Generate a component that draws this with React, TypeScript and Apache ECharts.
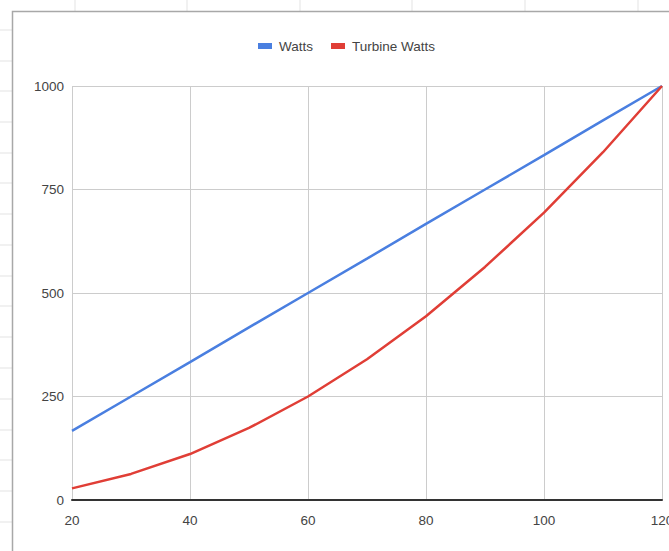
import React, { useEffect, useRef } from "react";
import * as echarts from "echarts";

const xValues = [20, 30, 40, 50, 60, 70, 80, 90, 100, 110, 120];
const wattsValues = [167, 250, 333, 417, 500, 583, 667, 750, 833, 917, 1000];
const turbineValues = [28, 63, 111, 174, 250, 340, 444, 563, 694, 840, 1000];
const seriesNames = ["Watts", "Turbine Watts"];

const FONT = "'Liberation Sans', Arial, sans-serif";
const FS = 13.5;

export default function App() {
  const ref = useRef<HTMLDivElement>(null);
  useEffect(() => {
    if (!ref.current) return;
    const chart = echarts.init(ref.current, null, { renderer: "svg" });
    const cellLineColor = "#e3e3e3";
    const graphics: any[] = [];
    [75, 187, 300, 412, 525, 638].forEach((x) => {
      graphics.push({ type: "line", shape: { x1: x, y1: 0, x2: x, y2: 11 }, style: { stroke: cellLineColor, lineWidth: 1 }, z: -10 });
    });
    [30, 61, 91, 122, 153, 183, 214, 245, 276, 306, 337, 368, 399, 430, 460, 491, 522].forEach((y) => {
      graphics.push({ type: "line", shape: { x1: 0, y1: y, x2: 12, y2: y }, style: { stroke: cellLineColor, lineWidth: 1 }, z: -10 });
    });
    graphics.push({
      type: "polyline",
      shape: { points: [[12.5, 560], [12.5, 11.5], [680, 11.5]] },
      style: { stroke: "#a8a8a8", lineWidth: 1.5, fill: null },
      z: -5,
    });
    chart.setOption({
      animation: false,
      backgroundColor: "#ffffff",
      graphic: graphics,
      legend: {
        data: seriesNames,
        left: 253,
        top: 34,
        icon: "rect",
        itemWidth: 14,
        itemHeight: 6,
        itemGap: 18,
        textStyle: { fontFamily: FONT, fontSize: FS, color: "#444", padding: [0, 0, 0, 2] },
      },
      grid: { left: 72, right: 7, top: 86, bottom: 51, containLabel: false, outerBoundsMode: "none" },
      xAxis: {
        type: "value",
        min: 20,
        max: 120,
        interval: 20,
        axisLine: { show: true, onZero: false, lineStyle: { color: "#333", width: 2 } },
        axisTick: { show: false },
        splitLine: { show: true, lineStyle: { color: "#cccccc", width: 1 } },
        axisLabel: { fontFamily: FONT, fontSize: FS, color: "#444", margin: 13, formatter: (v: number) => String(v) },
      },
      yAxis: {
        type: "value",
        min: 0,
        max: 1000,
        interval: 250,
        axisLine: { show: false },
        axisTick: { show: false },
        splitLine: { show: true, lineStyle: { color: "#cccccc", width: 1 } },
        axisLabel: { fontFamily: FONT, fontSize: FS, color: "#444", margin: 8, formatter: (v: number) => String(v) },
      },
      series: [
        {
          name: seriesNames[0],
          type: "line",
          data: xValues.map((x, i) => [x, wattsValues[i]]),
          showSymbol: false,
          lineStyle: { color: "#4a7fe0", width: 2.5 },
          itemStyle: { color: "#4a7fe0" },
        },
        {
          name: seriesNames[1],
          type: "line",
          data: xValues.map((x, i) => [x, turbineValues[i]]),
          showSymbol: false,
          lineStyle: { color: "#e03e36", width: 2.5 },
          itemStyle: { color: "#e03e36" },
        },
      ],
    });
    return () => chart.dispose();
  }, []);
  return <div ref={ref} style={{ position: "fixed", left: 0, top: 0, width: 669, height: 551 }} />;
}
